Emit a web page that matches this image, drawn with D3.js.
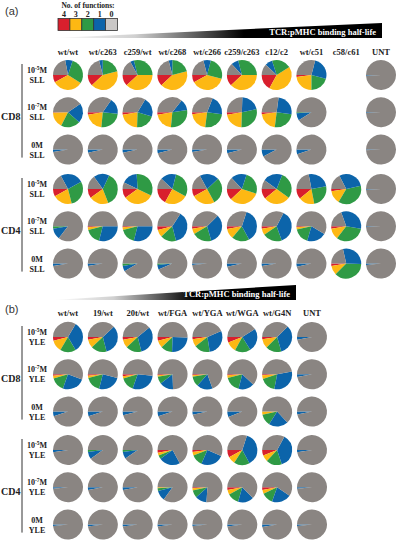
<!DOCTYPE html>
<html>
<head>
<meta charset="utf-8">
<script src="https://cdn.jsdelivr.net/npm/d3@7"></script>
<style>
  body { margin: 0; background: #fff; }
  text { font-family: "Liberation Serif", "DejaVu Serif", serif; }
</style>
</head>
<body>
<div id="chart"></div>
<script>
// number of functions, legend order
const funcLabels = ["4", "3", "2", "1", "0"];
const funcColors = ["#d81f2d", "#fdb813", "#2f9a45", "#0c64aa", "#8a8582"];

const colsA = ["wt/wt", "wt/c263", "c259/wt", "wt/c268", "wt/c266", "c259/c263", "c12/c2", "wt/c51", "c58/c61", "UNT"];
const colsB = ["wt/wt", "19/wt", "20t/wt", "wt/FGA", "wt/YGA", "wt/WGA", "wt/G4N", "UNT"];

// % of cells with 4,3,2,1,0 functions (null = not tested)
const aCD8_hi = [[8,33,29,8,22],[12,42,21,4,21],[12,38,29,4,17],[12,42,21,4,21],[8,38,25,8,21],[12,38,29,8,13],[17,42,21,8,12],[2,23,21,25,29],null,[0,0,0,0.8,99.2]];
const aCD8_mid = [[0.5,17,21,21,40.5],[2.5,21,25,17,34.5],[2.5,22,21,21,33.5],[2.5,21,29,12,35.5],[2,21,25,21,31],[2.5,22,29,21,25.5],[2,21,25,25,27],[0,0,1,8,91],null,[0,0,0,0.8,99.2]];
const aCD8_zero = [[0,0,0,2.5,97.5],[0,0,0,3.5,96.5],[0,0,0,3.5,96.5],[0,0,0,4,96],[0,0,0,2.5,97.5],[0,0,0,4,96],[0,0,0,7.5,92.5],[0,0,0,5,95],null,[0,0,0,0.8,99.2]];
const aCD4_hi = [[8,21,29,25,17],[10,21,37,17,15],[10,33,33,17,7],[17,25,29,17,12],[8,25,29,21,17],[12,33,25,17,13],[11,29,29,21,10],[11,17,25,25,22],[2.5,14,37,29,17.5],[0,0,0,0.8,99.2]];
const aCD4_mid = [[0,0,2.5,12,85.5],[1,3,17,29,50],[1,3,17,29,50],[4,8,17,37,34],[2.5,6,21,33,37.5],[3,11,19,37,30],[2.5,7,21,37,32.5],[1,2.5,17,21,58.5],[2.5,12,33,33,19.5],[0,0,0,0.8,99.2]];
const aCD4_zero = [[0,0,0,2.5,97.5],[0,0,0,2.5,97.5],[0,0,2.5,6,91.5],[0,0,1.5,5,93.5],[0,0,0,1.5,98.5],[0,0,0,3.5,96.5],[0,0,0,2.5,97.5],[0,0,0,3.5,96.5],[2.5,10,37,29,21.5],[0,0,0,1.5,98.5]];

const bCD8_hi = [[4,12.5,17,33,33.5],[3,9,17,33,38],[3,9,17,32,39],[4,8,12.5,25,50.5],[2.5,8,17,29,43.5],[6,11,17,25,41],[2.5,10,17,33,37.5],[0,0,0,3,97]];
const bCD8_mid = [[1.5,3,15,25,55.5],[1.5,2.5,17,25,54],[2,2.5,15,29,51.5],[1,1.5,8,15,74.5],[1,1.5,11,17,69.5],[1,3,17,17,62],[1,4,17,31,47],[0,0,0,3,97]];
const bCD8_zero = [[0,0,0,5,95],[0,0,0,5,95],[0,0,0,4,96],[0,0,0,5,95],[0,0,0,3.5,96.5],[0,0,0,6,94],[0,3.5,12.5,21,63],[0,0,0,3,97]];
const bCD4_hi = [[0,0,0,2.5,97.5],[0,0,2,8,90],[0,0,2,7.5,90.5],[3,3,4,23,67],[2,4,12.5,25,56.5],[8,8,17,37,30],[6,7,17,37,33],[0,0,0,2.5,97.5]];
const bCD4_mid = [[0,0,0,1.5,98.5],[0,0,0,3,97],[0,0,0,3,97],[0,1,3,11,85],[1,2.5,8,12.5,76],[3,5,12.5,17,62.5],[3,4,12.5,21,59.5],[0,0,0,1.5,98.5]];
const bCD4_zero = [[0,0,0,1.5,98.5],[0,0,0,2,98],[0,0,0,2,98],[0,0,0,2,98],[0,0,0,1.5,98.5],[0,0,0,2,98],[0,0,0,2.5,97.5],[0,0,0,1.5,98.5]];

const doseExp = ["-5", "-7", null];

const W = 399, H = 542;
const svg = d3.select("#chart").append("svg")
  .attr("width", W)
  .attr("height", H);

const color = d3.scaleOrdinal().domain(funcLabels).range(funcColors);
const radius = 15;

// slices start at 9 o'clock and run counter-clockwise
const pie = d3.pie().sort(null)
  .startAngle(-Math.PI / 2)
  .endAngle(-Math.PI / 2 - 2 * Math.PI);
const arc = d3.arc().innerRadius(0).outerRadius(radius);

// legend
const legX = d3.scaleBand().domain(funcLabels).range([58, 117.5]);
const legend = svg.append("g");
legend.append("text")
  .attr("x", 88).attr("y", 8)
  .attr("text-anchor", "middle")
  .attr("style", "font-size: 7.5px; font-weight: bold; fill: #222;")
  .text("No. of functions:");
legend.selectAll(".num").data(funcLabels).join("text")
  .attr("x", d => legX(d) + legX.bandwidth() / 2)
  .attr("y", 16.5)
  .attr("text-anchor", "middle")
  .attr("style", "font-size: 8px; font-weight: bold; fill: #222;")
  .text(d => d);
legend.selectAll("rect").data(funcLabels).join("rect")
  .attr("x", d => legX(d))
  .attr("y", 18.5)
  .attr("width", legX.bandwidth())
  .attr("height", 12)
  .attr("fill", d => d === "0" ? "#c9c7c6" : color(d))
  .attr("stroke", "#333")
  .attr("stroke-width", 0.8);

const defs = svg.append("defs");
const grad = defs.append("linearGradient").attr("id", "wedge");
grad.append("stop").attr("offset", "0").attr("stop-color", "#fff");
grad.append("stop").attr("offset", "0.25").attr("stop-color", "#d0d0d0");
grad.append("stop").attr("offset", "0.58").attr("stop-color", "#000");
grad.append("stop").attr("offset", "1").attr("stop-color", "#000");

function drawPanel(p) {
  const g = svg.append("g");
  const x = d3.scaleLinear().domain([0, p.cols.length - 1]).range([68, p.lastX]);

  g.append("text")
    .attr("x", 5).attr("y", p.letterY)
    .attr("style", "font-family: 'Liberation Sans', Arial, sans-serif; font-size: 11px; fill: #333;")
    .text(p.letter);

  // binding half-life wedge
  g.append("path")
    .attr("d", "M53," + p.wedgeY + "L" + p.wedgeX + "," + (p.wedgeY - 15) + "L" + p.wedgeX + "," + p.wedgeY + "Z")
    .attr("fill", "url(#wedge)");
  g.append("text")
    .attr("x", p.wedgeX - 6).attr("y", p.wedgeY - 3)
    .attr("text-anchor", "end")
    .attr("style", "font-size: 8.5px; font-weight: bold; fill: #fff;")
    .text("TCR:pMHC binding half-life");

  g.selectAll(".col").data(p.cols).join("text")
    .attr("x", (d, i) => x(i))
    .attr("y", p.colY)
    .attr("text-anchor", "middle")
    .attr("style", "font-size: 8.5px; font-weight: bold; fill: #222;")
    .text(d => d);

  p.groups.forEach(grp => {
    const y = d3.scaleLinear().domain([0, 2]).range([grp.y0, grp.y0 + 74.6]);

    g.append("line")
      .attr("x1", 22).attr("x2", 22)
      .attr("y1", y(0) - 11).attr("y2", y(2) + 8)
      .attr("stroke", "#333").attr("stroke-width", 1);
    g.append("text")
      .attr("x", 1).attr("y", y(1) + 8)
      .attr("style", "font-size: 10px; font-weight: bold; fill: #222;")
      .text(grp.name);

    grp.rows.forEach((row, r) => {
      const lab = g.append("text")
        .attr("x", 37).attr("y", y(r) - 2)
        .attr("text-anchor", "middle")
        .attr("style", "font-size: 8px; font-weight: bold; fill: #222;");
      if (doseExp[r]) {
        lab.append("tspan").text("10");
        lab.append("tspan").attr("dy", -3).attr("style", "font-size: 5.5px;").text(doseExp[r]);
        lab.append("tspan").attr("dy", 3).text("M");
      } else {
        lab.text("0M");
      }
      g.append("text")
        .attr("x", 37).attr("y", y(r) + 8)
        .attr("text-anchor", "middle")
        .attr("style", "font-size: 8px; font-weight: bold; fill: #222;")
        .text(p.peptide);

      row.forEach((vals, c) => {
        if (!vals) return;
        g.append("g")
          .attr("transform", "translate(" + x(c) + "," + y(r) + ")")
          .selectAll("path")
          .data(pie(vals))
          .join("path")
          .attr("d", arc)
          .attr("fill", (d, i) => color(funcLabels[i]));
      });
    });
  });
}

drawPanel({
  letter: "(a)", letterY: 15, wedgeY: 38, wedgeX: 382, colY: 55, lastX: 381,
  cols: colsA, peptide: "SLL",
  groups: [
    { name: "CD8", y0: 75, rows: [aCD8_hi, aCD8_mid, aCD8_zero] },
    { name: "CD4", y0: 189, rows: [aCD4_hi, aCD4_mid, aCD4_zero] }
  ]
});

drawPanel({
  letter: "(b)", letterY: 313, wedgeY: 300, wedgeX: 296, colY: 316, lastX: 312,
  cols: colsB, peptide: "YLE",
  groups: [
    { name: "CD8", y0: 337, rows: [bCD8_hi, bCD8_mid, bCD8_zero] },
    { name: "CD4", y0: 450, rows: [bCD4_hi, bCD4_mid, bCD4_zero] }
  ]
});
</script>
</body>
</html>
